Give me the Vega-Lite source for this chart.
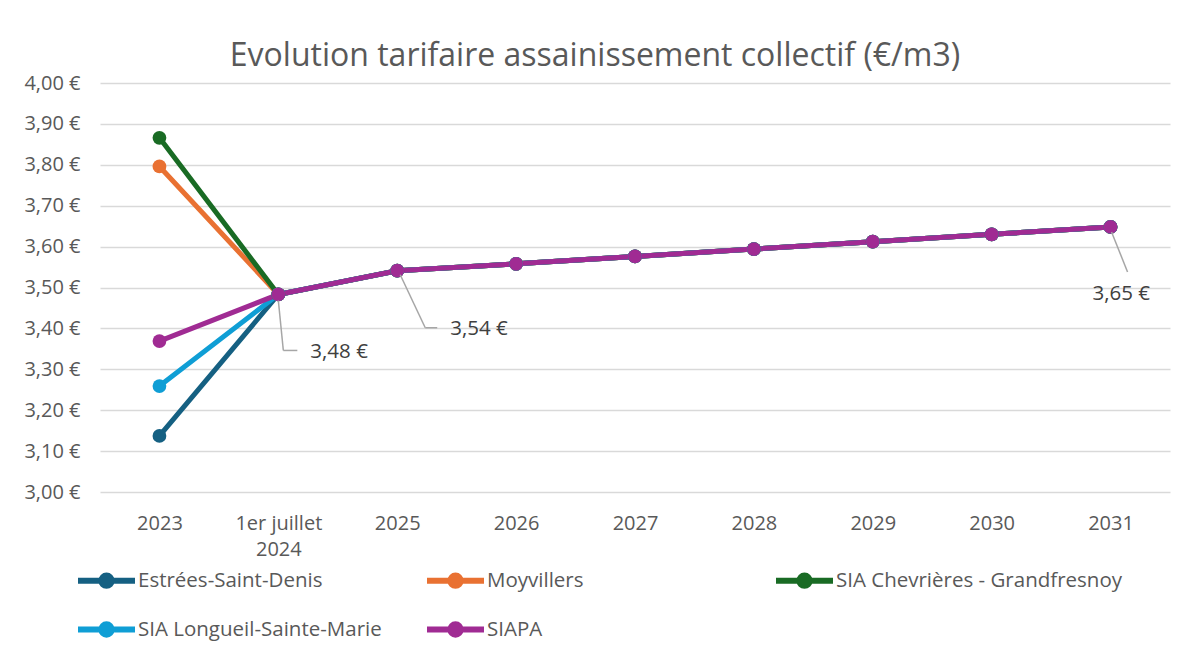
{
  "$schema": "https://vega.github.io/schema/vega-lite/v6.json",
  "width": 1070,
  "height": 409,
  "autosize": {"type": "none"},
  "padding": {"left": 100, "top": 83, "right": 8, "bottom": 159},
  "background": "white",
  "config": {
    "locale": {"number": {"decimal": ",", "thousands": " ", "grouping": [3], "currency": ["", " €"]}},
    "font": "Open Sans",
    "view": {"stroke": null},
    "axis": {"labelFont": "Open Sans", "labelFontSize": 20, "labelColor": "#595959", "ticks": false, "domain": false, "title": null}
  },
  "title": {
    "text": "Evolution tarifaire assainissement collectif (€/m3)",
    "fontSize": 32,
    "fontWeight": "normal",
    "color": "#595959",
    "font": "Open Sans",
    "anchor": "middle",
    "dx": -40,
    "offset": 0
  },
  "data": {
    "values": [
      {"serie": "Estrées-Saint-Denis", "periode": "2023", "tarif": 3.137},
      {"serie": "Estrées-Saint-Denis", "periode": "1er juillet 2024", "tarif": 3.483},
      {"serie": "Estrées-Saint-Denis", "periode": "2025", "tarif": 3.541},
      {"serie": "Estrées-Saint-Denis", "periode": "2026", "tarif": 3.558},
      {"serie": "Estrées-Saint-Denis", "periode": "2027", "tarif": 3.576},
      {"serie": "Estrées-Saint-Denis", "periode": "2028", "tarif": 3.594},
      {"serie": "Estrées-Saint-Denis", "periode": "2029", "tarif": 3.612},
      {"serie": "Estrées-Saint-Denis", "periode": "2030", "tarif": 3.630},
      {"serie": "Estrées-Saint-Denis", "periode": "2031", "tarif": 3.648},
      {"serie": "Moyvillers", "periode": "2023", "tarif": 3.796},
      {"serie": "Moyvillers", "periode": "1er juillet 2024", "tarif": 3.483},
      {"serie": "Moyvillers", "periode": "2025", "tarif": 3.541},
      {"serie": "Moyvillers", "periode": "2026", "tarif": 3.558},
      {"serie": "Moyvillers", "periode": "2027", "tarif": 3.576},
      {"serie": "Moyvillers", "periode": "2028", "tarif": 3.594},
      {"serie": "Moyvillers", "periode": "2029", "tarif": 3.612},
      {"serie": "Moyvillers", "periode": "2030", "tarif": 3.630},
      {"serie": "Moyvillers", "periode": "2031", "tarif": 3.648},
      {"serie": "SIA Chevrières - Grandfresnoy", "periode": "2023", "tarif": 3.866},
      {"serie": "SIA Chevrières - Grandfresnoy", "periode": "1er juillet 2024", "tarif": 3.483},
      {"serie": "SIA Chevrières - Grandfresnoy", "periode": "2025", "tarif": 3.541},
      {"serie": "SIA Chevrières - Grandfresnoy", "periode": "2026", "tarif": 3.558},
      {"serie": "SIA Chevrières - Grandfresnoy", "periode": "2027", "tarif": 3.576},
      {"serie": "SIA Chevrières - Grandfresnoy", "periode": "2028", "tarif": 3.594},
      {"serie": "SIA Chevrières - Grandfresnoy", "periode": "2029", "tarif": 3.612},
      {"serie": "SIA Chevrières - Grandfresnoy", "periode": "2030", "tarif": 3.630},
      {"serie": "SIA Chevrières - Grandfresnoy", "periode": "2031", "tarif": 3.648},
      {"serie": "SIA Longueil-Sainte-Marie", "periode": "2023", "tarif": 3.259},
      {"serie": "SIA Longueil-Sainte-Marie", "periode": "1er juillet 2024", "tarif": 3.483},
      {"serie": "SIA Longueil-Sainte-Marie", "periode": "2025", "tarif": 3.541},
      {"serie": "SIA Longueil-Sainte-Marie", "periode": "2026", "tarif": 3.558},
      {"serie": "SIA Longueil-Sainte-Marie", "periode": "2027", "tarif": 3.576},
      {"serie": "SIA Longueil-Sainte-Marie", "periode": "2028", "tarif": 3.594},
      {"serie": "SIA Longueil-Sainte-Marie", "periode": "2029", "tarif": 3.612},
      {"serie": "SIA Longueil-Sainte-Marie", "periode": "2030", "tarif": 3.630},
      {"serie": "SIA Longueil-Sainte-Marie", "periode": "2031", "tarif": 3.648},
      {"serie": "SIAPA", "periode": "2023", "tarif": 3.369},
      {"serie": "SIAPA", "periode": "1er juillet 2024", "tarif": 3.483},
      {"serie": "SIAPA", "periode": "2025", "tarif": 3.541},
      {"serie": "SIAPA", "periode": "2026", "tarif": 3.558},
      {"serie": "SIAPA", "periode": "2027", "tarif": 3.576},
      {"serie": "SIAPA", "periode": "2028", "tarif": 3.594},
      {"serie": "SIAPA", "periode": "2029", "tarif": 3.612},
      {"serie": "SIAPA", "periode": "2030", "tarif": 3.630},
      {"serie": "SIAPA", "periode": "2031", "tarif": 3.648}
    ]
  },
  "encoding": {
    "x": {
      "field": "periode",
      "type": "ordinal",
      "sort": null,
      "scale": {"type": "point", "padding": 0.5},
      "axis": {
        "labelAngle": 0,
        "labelPadding": 21,
        "labelLineHeight": 26,
        "labelExpr": "datum.label == '1er juillet 2024' ? ['1er juillet', '2024'] : datum.label"
      }
    },
    "y": {
      "field": "tarif",
      "type": "quantitative",
      "scale": {"domain": [3, 4], "nice": false, "zero": false},
      "axis": {
        "values": [3, 3.1, 3.2, 3.3, 3.4, 3.5, 3.6, 3.7, 3.8, 3.9, 4],
        "format": "$.2f",
        "labelPadding": 20,
        "gridColor": "#d9d9d9",
        "gridWidth": 1.5
      }
    }
  },
  "layer": [
    {
      "mark": {"type": "line", "strokeWidth": 5},
      "encoding": {
        "color": {
          "field": "serie",
          "type": "nominal",
          "scale": {
            "domain": ["Estrées-Saint-Denis", "Moyvillers", "SIA Chevrières - Grandfresnoy", "SIA Longueil-Sainte-Marie", "SIAPA"],
            "range": ["#156082", "#E97132", "#196B24", "#0F9ED5", "#A02B93"]
          },
          "legend": {
            "orient": "none",
            "direction": "horizontal",
            "legendX": -25,
            "legendY": 466,
            "title": null,
            "columns": 3,
            "gridAlign": "all",
            "columnPadding": -10,
            "rowPadding": -5,
            "labelFont": "Open Sans",
            "labelFontSize": 20.5,
            "labelColor": "#595959",
            "labelOffset": 0,
            "labelLimit": 500,
            "symbolType": "M-1,0L1,0M-0.18,0A0.18,0.18,0,1,1,0.18,0A0.18,0.18,0,1,1,-0.18,0Z",
            "symbolSize": 3249,
            "symbolStrokeWidth": 6,
            "encode": {
              "symbols": {
                "update": {
                  "fill": {"scale": "color", "field": "value"},
                  "stroke": {"scale": "color", "field": "value"}
                }
              }
            }
          }
        }
      }
    },
    {
      "mark": {"type": "point", "filled": true, "size": 190, "opacity": 1},
      "encoding": {
        "color": {"field": "serie", "type": "nominal", "legend": null}
      }
    },
    {
      "transform": [{"filter": "datum.serie == 'SIAPA' && datum.periode == '1er juillet 2024'"}],
      "layer": [
        {"mark": {"type": "rule", "color": "#a6a6a6", "strokeWidth": 1.5, "yOffset": 6, "y2Offset": 56, "x2Offset": 5}, "encoding": {"x2": {"field": "periode"}, "y2": {"field": "tarif"}}},
        {"mark": {"type": "rule", "color": "#a6a6a6", "strokeWidth": 1.5, "xOffset": 5, "yOffset": 56, "y2Offset": 56, "x2Offset": 19}, "encoding": {"x2": {"field": "periode"}, "y2": {"field": "tarif"}}},
        {"mark": {"type": "text", "align": "left", "baseline": "middle", "dx": 32, "dy": 58, "fontSize": 20.5, "color": "#404040", "font": "Open Sans"}, "encoding": {"text": {"field": "tarif", "type": "quantitative", "format": "$.2f"}}}
      ]
    },
    {
      "transform": [{"filter": "datum.serie == 'SIAPA' && datum.periode == '2025'"}],
      "layer": [
        {"mark": {"type": "rule", "color": "#a6a6a6", "strokeWidth": 1.5, "xOffset": 3, "yOffset": 4, "y2Offset": 57, "x2Offset": 28}, "encoding": {"x2": {"field": "periode"}, "y2": {"field": "tarif"}}},
        {"mark": {"type": "rule", "color": "#a6a6a6", "strokeWidth": 1.5, "xOffset": 28, "yOffset": 57, "y2Offset": 57, "x2Offset": 40}, "encoding": {"x2": {"field": "periode"}, "y2": {"field": "tarif"}}},
        {"mark": {"type": "text", "align": "left", "baseline": "middle", "dx": 53, "dy": 58, "fontSize": 20.5, "color": "#404040", "font": "Open Sans"}, "encoding": {"text": {"field": "tarif", "type": "quantitative", "format": "$.2f"}}}
      ]
    },
    {
      "transform": [{"filter": "datum.serie == 'SIAPA' && datum.periode == '2031'"}],
      "layer": [
        {"mark": {"type": "rule", "color": "#a6a6a6", "strokeWidth": 1.5, "xOffset": 1, "yOffset": 5, "y2Offset": 45, "x2Offset": 17}, "encoding": {"x2": {"field": "periode"}, "y2": {"field": "tarif"}}},
        {"mark": {"type": "text", "align": "left", "baseline": "middle", "dx": -18, "dy": 67, "fontSize": 20.5, "color": "#404040", "font": "Open Sans"}, "encoding": {"text": {"field": "tarif", "type": "quantitative", "format": "$.2f"}}}
      ]
    }
  ]
}
